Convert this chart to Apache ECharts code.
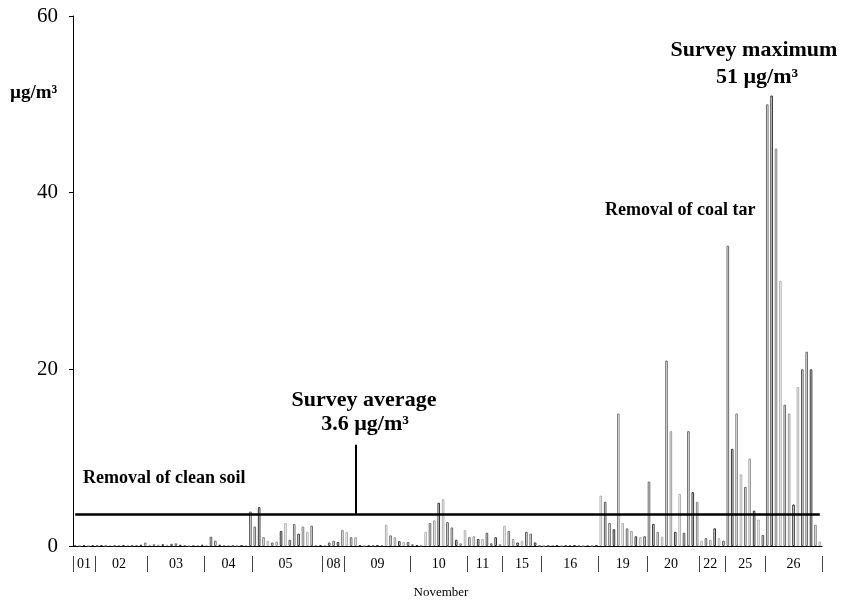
<!DOCTYPE html>
<html>
<head>
<meta charset="utf-8">
<script src="https://cdn.jsdelivr.net/npm/echarts@6/dist/echarts.min.js"></script>
<style>
html,body{margin:0;padding:0;background:#fff;}
#chart{width:841px;height:605px;}
</style>
</head>
<body>
<div id="chart"></div>
<script>
// ---- data ----
const dayLabels = ['01','02','03','04','05','08','09','10','11','15','16','19','20','22','25','26'];
const day01 = [0.1, 0.05, 0.1, 0.05, 0.1];
const day02 = [0.05, 0.1, 0.05, 0.1, 0.05, 0.1, 0.05, 0.1, 0.05, 0.1, 0.15, 0.4];
const day03 = [0.15, 0.2, 0.15, 0.2, 0.15, 0.25, 0.3, 0.15, 0.1, 0.05, 0.1, 0.1, 0.15];
const day04 = [0.1, 1.05, 0.6, 0.15, 0.1, 0.1, 0.05, 0.05, 0.05, 0.1, 3.9];
const day05 = [2.2, 4.4, 1.0, 0.6, 0.4, 0.5, 1.7, 2.6, 0.7, 2.5, 1.4, 2.2, 1.6, 2.3, 0.1, 0.1];
const day08 = [0.1, 0.4, 0.6, 0.45, 1.8];
const day09 = [1.6, 1.0, 1.0, 0.1, 0.05, 0.1, 0.05, 0.05, 0.1, 2.4, 1.2, 1.0, 0.55, 0.45, 0.45];
const day10 = [0.2, 0.1, 0.05, 1.6, 2.6, 2.9, 4.9, 5.3, 2.7, 2.1, 0.7, 0.3, 1.8];
const day11 = [1.0, 1.1, 0.8, 0.8, 1.5, 0.3, 1.0, 0.2];
const day15 = [2.3, 1.7, 0.8, 0.4, 0.6, 1.6, 1.4, 0.4, 0.05];
const day16 = [0.05, 0.05, 0.1, 0.05, 0.05, 0.05, 0.1, 0.05, 0.05, 0.05, 0.1, 0.05, 0.05];
const day19 = [5.7, 5.0, 2.6, 1.9, 15.0, 2.6, 2.0, 1.7, 1.1, 1.0, 1.1];
const day20 = [7.3, 2.5, 1.6, 1.05, 21.0, 13.0, 1.6, 5.9, 1.5, 13.0, 6.1, 5.0];
const day22 = [0.6, 0.9, 0.7, 2.0, 0.9, 0.6];
const day25 = [34.0, 11.0, 15.0, 8.1, 6.7, 9.9, 4.0, 3.0, 1.25];
const day26 = [50.0, 51.0, 45.0, 30.0, 16.0, 15.0, 4.7, 18.0, 20.0, 22.0, 20.0, 2.4, 0.5];
const yTickValues = [0, 20, 40, 60];
const surveyAverage = 3.6;
const averageMarkerTop = 11.45;
const averageMarkerSample = 64;

// ---- build ----
const dayGroups = [day01, day02, day03, day04, day05, day08, day09, day10, day11, day15, day16, day19, day20, day22, day25, day26];
const values = [];
const groupStarts = new Set();
const labelAt = {};
dayGroups.forEach((g, gi) => {
  const start = values.length;
  groupStarts.add(start);
  labelAt[start + Math.floor((g.length - 1) / 2)] = dayLabels[gi];
  g.forEach(v => values.push(v));
});
const ids = values.map((v, i) => 'S' + (i + 1));
const outlinePalette = ['#6a6a6a', '#9a9a9a', '#333333', '#808080', '#b0b0b0', '#555555'];
const barData = values.map((v, i) => ({
  value: v,
  itemStyle: { borderColor: outlinePalette[(i * 7 + Math.floor(i / 3)) % outlinePalette.length] }
}));

const serif = '"Liberation Serif", "Times New Roman", serif';
const chart = echarts.init(document.getElementById('chart'), null, { renderer: 'canvas' });

chart.setOption({
  animation: false,
  backgroundColor: '#fff',
  grid: { left: 73, right: 19, top: 16, bottom: 59, containLabel: false },
  xAxis: [
    {
      type: 'category', data: ids, boundaryGap: true,
      axisLine: { show: true, lineStyle: { color: '#000', width: 1 } },
      axisTick: { show: false }, axisLabel: { show: false }, splitLine: { show: false }
    },
    {
      type: 'category', data: ids, boundaryGap: true, position: 'bottom', offset: 10,
      axisLine: { show: false },
      axisTick: { show: true, length: 16, interval: (i) => groupStarts.has(i), lineStyle: { color: '#444', width: 1 } },
      axisLabel: {
        show: true, margin: 1, interval: (i) => labelAt[i] !== undefined,
        formatter: (v, i) => labelAt[i] || '',
        fontFamily: serif, fontSize: 14, color: '#000'
      },
      splitLine: { show: false }
    }
  ],
  yAxis: {
    type: 'value', min: yTickValues[0], max: yTickValues[yTickValues.length - 1], interval: 20,
    axisLine: { show: true, lineStyle: { color: '#000', width: 1 } },
    axisTick: { show: true, length: 4, lineStyle: { color: '#000' } },
    axisLabel: { fontFamily: serif, fontSize: 21, color: '#000', margin: 15 },
    splitLine: { show: false }
  },
  series: [{
    type: 'bar', xAxisIndex: 0, data: barData, barWidth: 2.6,
    itemStyle: { color: '#ffffff', borderWidth: 1 },
    markLine: {
      silent: true, symbol: 'none', animation: false,
      label: { show: false },
      lineStyle: { color: '#000', type: 'solid', width: 2.5 },
      data: [
        [{ coord: [ids[0], surveyAverage] }, { coord: [ids[ids.length - 1], surveyAverage] }],
        [{ coord: [ids[averageMarkerSample], surveyAverage], lineStyle: { width: 2 } }, { coord: [ids[averageMarkerSample], averageMarkerTop] }]
      ]
    }
  }],
  graphic: [
    { type: 'text', x: 10, y: 93, style: { text: 'µg/m³', font: 'bold 19px ' + serif, fill: '#000', align: 'left', verticalAlign: 'middle' } },
    { type: 'text', x: 754, y: 50, style: { text: 'Survey maximum', font: 'bold 22px ' + serif, fill: '#000', align: 'center', verticalAlign: 'middle' } },
    { type: 'text', x: 757, y: 77, style: { text: '51 µg/m³', font: 'bold 22px ' + serif, fill: '#000', align: 'center', verticalAlign: 'middle' } },
    { type: 'text', x: 605, y: 210, style: { text: 'Removal of coal tar', font: 'bold 18px ' + serif, fill: '#000', align: 'left', verticalAlign: 'middle' } },
    { type: 'text', x: 364, y: 400, style: { text: 'Survey average', font: 'bold 22px ' + serif, fill: '#000', align: 'center', verticalAlign: 'middle' } },
    { type: 'text', x: 365, y: 424, style: { text: '3.6 µg/m³', font: 'bold 22px ' + serif, fill: '#000', align: 'center', verticalAlign: 'middle' } },
    { type: 'text', x: 83, y: 478, style: { text: 'Removal of clean soil', font: 'bold 18px ' + serif, fill: '#000', align: 'left', verticalAlign: 'middle' } },
    { type: 'text', x: 441, y: 593, style: { text: 'November', font: '13px ' + serif, fill: '#000', align: 'center', verticalAlign: 'middle' } }
  ]
});
</script>
</body>
</html>
